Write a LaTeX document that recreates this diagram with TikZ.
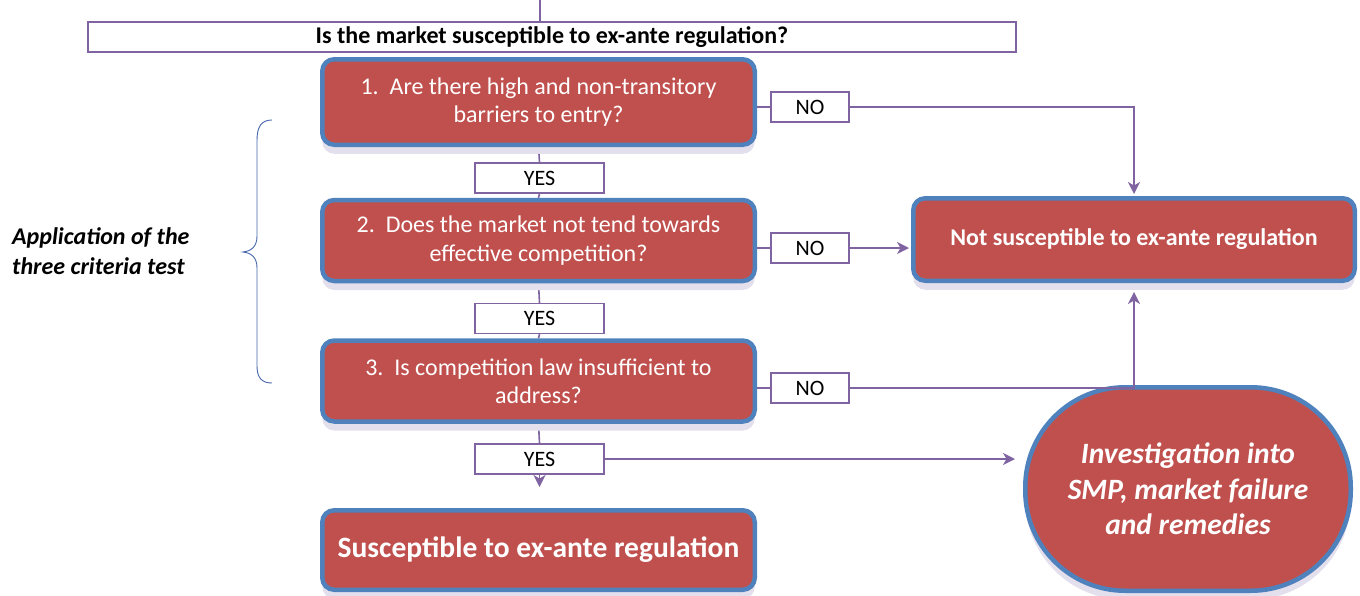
\documentclass[tikz,border=0pt]{standalone}
\usepackage{fontspec}
\setmainfont{Carlito}
\usetikzlibrary{arrows.meta,shadows,backgrounds,calc}
\definecolor{boxred}{RGB}{192,80,77}
\definecolor{boxblue}{RGB}{79,129,189}
\definecolor{linepurple}{RGB}{128,100,162}
\definecolor{shadowc}{RGB}{228,223,236}
\definecolor{bracec}{RGB}{68,100,170}
\tikzset{
  redbox/.style={rectangle, rounded corners=12pt, fill=boxred, draw=boxblue,
    line width=4.5pt, text=white, align=center, inner sep=0pt,
    drop shadow={shadow xshift=0pt, shadow yshift=-9pt, fill=shadowc, opacity=1}},
  qbox/.style={redbox, minimum width=432.5pt, minimum height=81pt,
    font=\fontsize{24}{28.5}\selectfont},
  lab/.style={rectangle, draw=linepurple, line width=1.3pt, fill=white,
    minimum height=30pt, inner sep=0pt, font=\fontsize{22}{26}\selectfont},
  yeslab/.style={lab, minimum width=129pt},
  nolab/.style={lab, minimum width=78pt},
  conn/.style={draw=linepurple, line width=1.6pt},
  arr/.style={conn, -{Stealth[length=12pt,width=12pt,inset=3.5pt]}},
}
\begin{document}
\begin{tikzpicture}[x=1pt,y=-1pt]
\useasboundingbox (0,0) rectangle (1360,595);

% header
\coordinate (top) at (540,0);
\node[rectangle, draw=linepurple, line width=1.3pt, fill=white, minimum width=928pt,
  minimum height=30pt, inner sep=0pt, font=\bfseries\fontsize{24}{28}\selectfont]
  (hdr) at (552,37) {Is the market susceptible to ex-ante regulation?};

% question boxes
\node[qbox, minimum height=85.5pt] (b1) at (538.5,102)
  {1.\ \ Are there high and non-transitory\\barriers to entry?};
\node[qbox] (b2) at (538.5,240.5)
  {2.\ \ Does the market not tend towards\\effective competition?};
\node[qbox] (b3) at (538.5,381)
  {3.\ \ Is competition law insufficient to\\address?};
\node[redbox, minimum width=432.5pt, minimum height=79.5pt,
  font=\bfseries\fontsize{29.5}{34}\selectfont] (b4) at (538.5,550)
  {Susceptible to ex-ante regulation};

% outcome boxes
\node[redbox, minimum width=441.5pt, minimum height=82.5pt,
  font=\bfseries\fontsize{24}{28}\selectfont] (ns) at (1134,239.5)
  {Not susceptible to ex-ante regulation};
\node[redbox, rounded corners=100pt, minimum width=325.5pt, minimum height=203.5pt,
  font=\bfseries\itshape\fontsize{29.5}{35.5}\selectfont] (ell) at (1188,489)
  {Investigation into\\SMP, market failure\\and remedies};

% labels
\node[yeslab] (y1) at (539.5,178) {YES};
\node[yeslab] (y2) at (539.5,318.5) {YES};
\node[yeslab] (y3) at (539.5,459) {YES};
\node[nolab] (n1) at (810,107) {NO};
\node[nolab] (n2) at (810,248) {NO};
\node[nolab] (n3) at (810,388) {NO};
\coordinate (y3end) at (539.5,487);

% side label and brace
\node[anchor=west, align=left, inner sep=0pt,
  font=\bfseries\itshape\fontsize{24}{30}\selectfont] (applab) at (12,251)
  {Application of the\\three criteria test};
\draw[bracec, line width=0.9pt]
  (272,120) .. controls (262,120) and (257,126) .. (257,140) -- (257,236)
  .. controls (257,246) and (252,251) .. (243,252)
  .. controls (252,253) and (257,258) .. (257,268) -- (257,366)
  .. controls (257,378) and (262,383) .. (272,383);

% connectors
\begin{scope}[on background layer]
\draw[conn] (top) -- (top |- hdr.north);
\draw[conn] (b1.south) -- (y1.north);
\draw[conn] (y1.south) -- (b2.north);
\draw[conn] (b2.south) -- (y2.north);
\draw[conn] (y2.south) -- (b3.south |- b3.north);
\draw[conn] (b3.south) -- (y3.north);
\draw[conn] (n1.west -| b1.east) -- (n1.west);
\draw[conn] (n2.west -| b2.east) -- (n2.west);
\draw[conn] (n3.west -| b3.east) -- (n3.west);
\end{scope}
\draw[arr] (y3.south) -- (y3end);
\draw[arr, shorten >=2pt] (n1.east) -| (ns.north);
\draw[arr, shorten >=2pt] (n2.east) -- (n2.east -| ns.west);
\draw[arr, shorten >=9pt] (n3.east) -| (ns.south);
\draw[arr, shorten >=8pt] (y3.east) -- (y3.east -| ell.west);
\end{tikzpicture}
\end{document}
